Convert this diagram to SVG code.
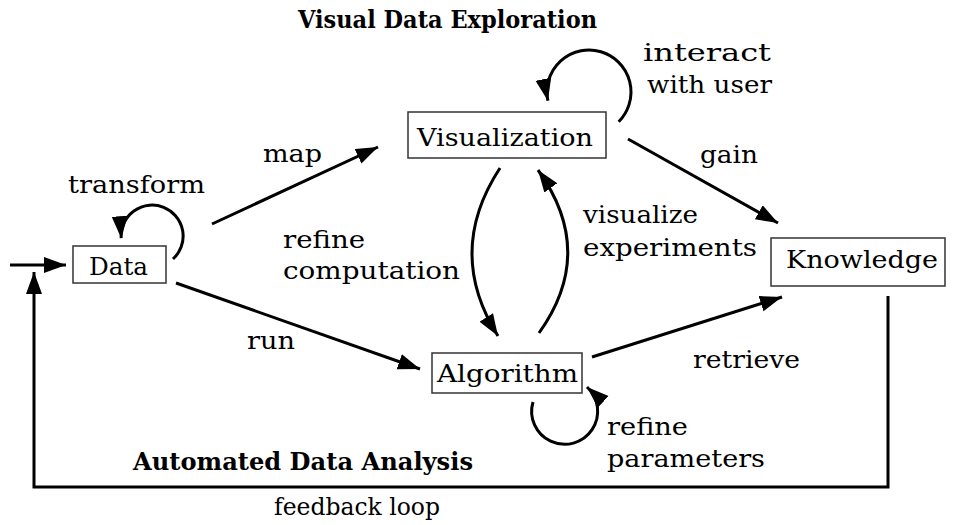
<svg xmlns="http://www.w3.org/2000/svg" width="955" height="525" viewBox="0 0 955 525">
<style>
text{font-family:"DejaVu Serif","Liberation Serif",serif;font-size:25px;fill:#000}
.b{font-weight:bold}
.box{fill:#fff;stroke:#333;stroke-width:1.5}
.c{fill:none;stroke:#000;stroke-width:3}
</style>
<defs>
<marker id="ah" markerUnits="userSpaceOnUse" markerWidth="24" markerHeight="18" refX="22" refY="8" orient="auto" viewBox="0 0 24 18">
<path d="M0,0 L22,8 L0,16 z" fill="#000"/>
</marker>
</defs>
<g id="connectors">
<path class="c" d="M10,265 H66" marker-end="url(#ah)"/>
<path class="c" d="M173,259 A31,31 0 1 0 121.2,238.2" marker-end="url(#ah)"/>
<path class="c" d="M212,224 L378,147" marker-end="url(#ah)"/>
<path class="c" d="M176,283 L420,369" marker-end="url(#ah)"/>
<path class="c" d="M500,168 Q445,252 498,336" marker-end="url(#ah)"/>
<path class="c" d="M539,333 Q597,252 538,170" marker-end="url(#ah)"/>
<path class="c" d="M618.7,121.7 A42,42 0 1 0 547.9,100.7" marker-end="url(#ah)"/>
<path class="c" d="M628,139 L778,223" marker-end="url(#ah)"/>
<path class="c" d="M592,357 L782,297" marker-end="url(#ah)"/>
<path class="c" d="M533,402 A33,33 0 1 0 587,387" marker-end="url(#ah)"/>
<path class="c" d="M888,296 V487 H34 V272" marker-end="url(#ah)"/>
</g>
<g id="title-exploration"><text class="b" x="298" y="28" textLength="299" lengthAdjust="spacingAndGlyphs">Visual Data Exploration</text></g>
<g id="title-analysis"><text class="b" x="133" y="470" textLength="340" lengthAdjust="spacingAndGlyphs">Automated Data Analysis</text></g>
<g id="data"><rect class="box" x="73" y="246" width="93" height="37"/><text x="89" y="275" textLength="59" lengthAdjust="spacingAndGlyphs">Data</text></g>
<g id="visualization"><rect class="box" x="408" y="112" width="198" height="46"/><text x="417" y="146" textLength="176" lengthAdjust="spacingAndGlyphs">Visualization</text></g>
<g id="algorithm"><rect class="box" x="432" y="353" width="150" height="40"/><text x="437" y="382" textLength="141" lengthAdjust="spacingAndGlyphs">Algorithm</text></g>
<g id="knowledge"><rect class="box" x="771" y="238" width="174" height="48"/><text x="786" y="268" textLength="152" lengthAdjust="spacingAndGlyphs">Knowledge</text></g>
<g id="labels">
<text x="68" y="193" textLength="137" lengthAdjust="spacingAndGlyphs">transform</text>
<text x="263" y="162" textLength="59" lengthAdjust="spacingAndGlyphs">map</text>
<text x="283" y="248" textLength="82" lengthAdjust="spacingAndGlyphs">refine</text>
<text x="283" y="279" textLength="177" lengthAdjust="spacingAndGlyphs">computation</text>
<text x="583" y="223" textLength="115" lengthAdjust="spacingAndGlyphs">visualize</text>
<text x="583" y="256" textLength="174" lengthAdjust="spacingAndGlyphs">experiments</text>
<text x="643" y="61" textLength="128" lengthAdjust="spacingAndGlyphs">interact</text>
<text x="647" y="93" textLength="125" lengthAdjust="spacingAndGlyphs">with user</text>
<text x="700" y="163" textLength="58" lengthAdjust="spacingAndGlyphs">gain</text>
<text x="247" y="349" textLength="48" lengthAdjust="spacingAndGlyphs">run</text>
<text x="693" y="368" textLength="107" lengthAdjust="spacingAndGlyphs">retrieve</text>
<text x="607" y="435" textLength="81" lengthAdjust="spacingAndGlyphs">refine</text>
<text x="607" y="467" textLength="158" lengthAdjust="spacingAndGlyphs">parameters</text>
<text x="274" y="515" textLength="166" lengthAdjust="spacingAndGlyphs">feedback loop</text>
</g>
</svg>
